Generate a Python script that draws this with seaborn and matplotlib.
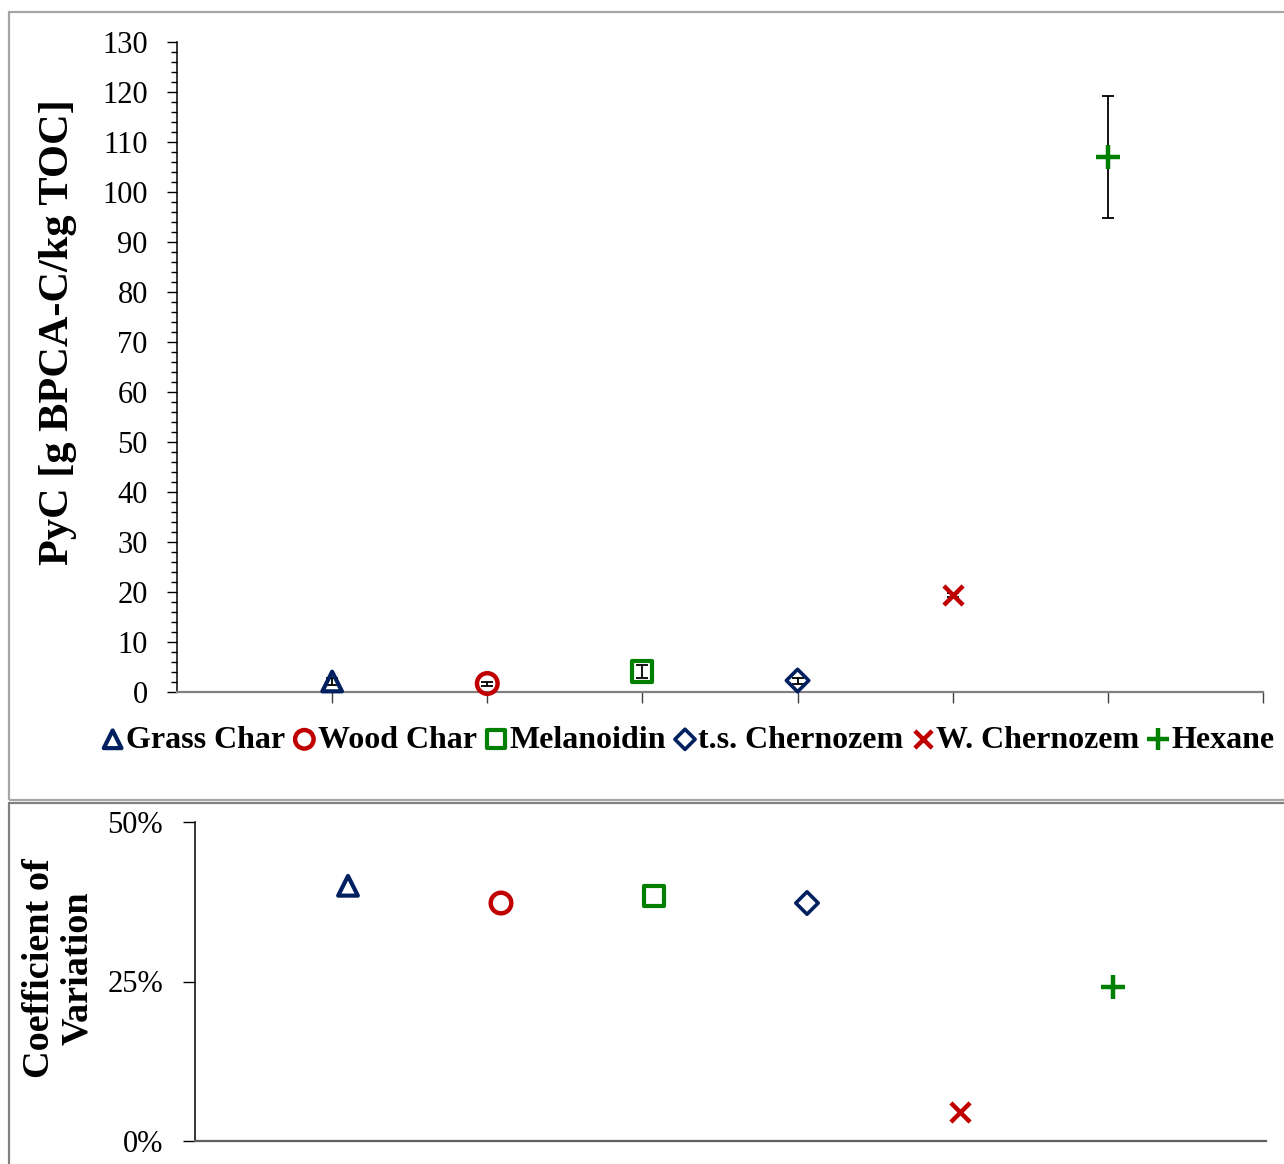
import matplotlib
matplotlib.use("Agg")
import matplotlib.pyplot as plt
from matplotlib.patches import Rectangle
from matplotlib.ticker import MultipleLocator, FixedLocator, FuncFormatter
import seaborn as sns
import pandas as pd

# Samples and measured values
samples = ["Grass Char", "Wood Char", "Melanoidin", "t.s. Chernozem", "W. Chernozem", "Hexane"]
pyc_mean = [2.1, 1.7, 4.1, 2.3, 19.5, 107.0]          # g BPCA-C / kg TOC
pyc_err = [0.7, 0.4, 1.3, 0.6, 0.4, 12.2]
cv_percent = [40.0, 37.3, 38.4, 37.3, 4.5, 24.1]       # coefficient of variation, %

# Styling per sample
marker_map = {"Grass Char": "^", "Wood Char": "o", "Melanoidin": "s",
              "t.s. Chernozem": "D", "W. Chernozem": "x", "Hexane": "+"}
color_map = {"Grass Char": "#002060", "Wood Char": "#C00000", "Melanoidin": "#008000",
             "t.s. Chernozem": "#002060", "W. Chernozem": "#C00000", "Hexane": "#008000"}
size_map = {"^": 200, "o": 220, "s": 210, "D": 130, "x": 190, "+": 300}
lw_map = {"^": 3.0, "o": 3.2, "s": 3.0, "D": 2.6, "x": 3.2, "+": 3.2}

df = pd.DataFrame({"sample": samples, "pyc": pyc_mean, "err": pyc_err, "cv": cv_percent})
df["pos"] = range(1, len(samples) + 1)

sns.set_style("ticks")
plt.rcParams["font.family"] = ["Liberation Serif", "DejaVu Serif"]
plt.rcParams["text.color"] = "black"
plt.rcParams["xtick.color"] = "black"
plt.rcParams["ytick.color"] = "black"
plt.rcParams["axes.labelcolor"] = "black"

W, H = 1284, 1164
fig = plt.figure(figsize=(W / 100, H / 100), dpi=100)


def fx(px):
    return px / W


def fy(py):
    return 1 - py / H


# Panel frames
fig.patches.append(Rectangle((fx(9), fy(800)), fx(1300 - 9), fy(12) - fy(800),
                             transform=fig.transFigure, fill=False,
                             edgecolor="#a6a6a6", linewidth=1.6))
fig.patches.append(Rectangle((fx(9), fy(1200)), fx(1300 - 9), fy(803) - fy(1200),
                             transform=fig.transFigure, fill=False,
                             edgecolor="#808080", linewidth=1.6))

ax1 = fig.add_axes([fx(177), fy(692), fx(1263 - 177), fy(42) - fy(692)])
ax2 = fig.add_axes([fx(195), fy(1141), fx(1266 - 195), fy(822) - fy(1141)])


def draw_points(ax, col, legend_labels=False):
    for _, row in df.iterrows():
        m = marker_map[row["sample"]]
        c = color_map[row["sample"]]
        kw = dict(marker=m, s=size_map[m], linewidth=lw_map[m], color=c, zorder=3)
        if m not in ("x", "+"):
            kw["facecolor"] = "none"
            kw["edgecolor"] = c
        sns.scatterplot(x=[row["pos"]], y=[row[col]], ax=ax,
                        label=row["sample"] if legend_labels else None,
                        legend=False, **kw)


# Top panel: PyC content with error bars
ax1.errorbar(df["pos"], df["pyc"], yerr=df["err"], fmt="none", ecolor="black",
             elinewidth=1.3, capsize=4.5, capthick=1.3, zorder=2)
draw_points(ax1, "pyc", legend_labels=True)
ax1.set_xlim(0, 7)
ax1.set_ylim(0, 130)
ax1.yaxis.set_major_locator(MultipleLocator(10))
ax1.yaxis.set_minor_locator(MultipleLocator(2))
ax1.xaxis.set_major_locator(FixedLocator(range(1, 8)))
ax1.set_xticklabels([])
ax1.tick_params(axis="y", which="major", length=7, width=1, direction="out",
                labelsize=22, pad=14, color="black", labelcolor="black")
ax1.tick_params(axis="y", which="minor", length=4, width=1, direction="out", color="black")
ax1.tick_params(axis="x", which="major", length=8, width=1, direction="out", color="#404040")
ax1.set_xlabel("")
ax1.set_ylabel("")
for s in ("top", "right"):
    ax1.spines[s].set_visible(False)
ax1.spines["left"].set_color("black")
ax1.spines["left"].set_linewidth(1.1)
ax1.spines["bottom"].set_color("#808080")
ax1.spines["bottom"].set_linewidth(1.6)
for coll in ax1.collections:
    coll.set_clip_on(False)

fig.text(fx(58), fy(332), "PyC [g BPCA-C/kg TOC]", rotation=90, ha="center",
         va="center", fontsize=30.5, fontweight="bold", color="black")

handles, labels = ax1.get_legend_handles_labels()
fig.legend(handles, labels, loc="center", bbox_to_anchor=(fx(689), fy(740)),
           ncol=6, frameon=False, markerscale=0.9, handlelength=0.6,
           handletextpad=0.12, columnspacing=0.3, borderaxespad=0,
           borderpad=0.1, prop={"weight": "bold", "size": 23})

# Bottom panel: coefficient of variation
draw_points(ax2, "cv")
ax2.set_xlim(0, 7)
ax2.set_ylim(0, 50)
ax2.yaxis.set_major_locator(FixedLocator([0, 25, 50]))
ax2.yaxis.set_major_formatter(FuncFormatter(lambda v, _: f"{v:.0f}%"))
ax2.set_xticks([])
ax2.tick_params(axis="y", which="major", length=9, width=1, direction="out",
                labelsize=22, pad=14, color="black", labelcolor="black")
ax2.set_xlabel("")
ax2.set_ylabel("")
for s in ("top", "right"):
    ax2.spines[s].set_visible(False)
ax2.spines["left"].set_color("black")
ax2.spines["left"].set_linewidth(1.1)
ax2.spines["bottom"].set_color("#606060")
ax2.spines["bottom"].set_linewidth(1.6)
for coll in ax2.collections:
    coll.set_clip_on(False)

fig.text(fx(59), fy(968), "Coefficient of\nVariation", rotation=90, ha="center",
         va="center", fontsize=27.5, fontweight="bold", linespacing=1.12,
         multialignment="center", color="black")

fig.savefig("out.png", dpi=100)
